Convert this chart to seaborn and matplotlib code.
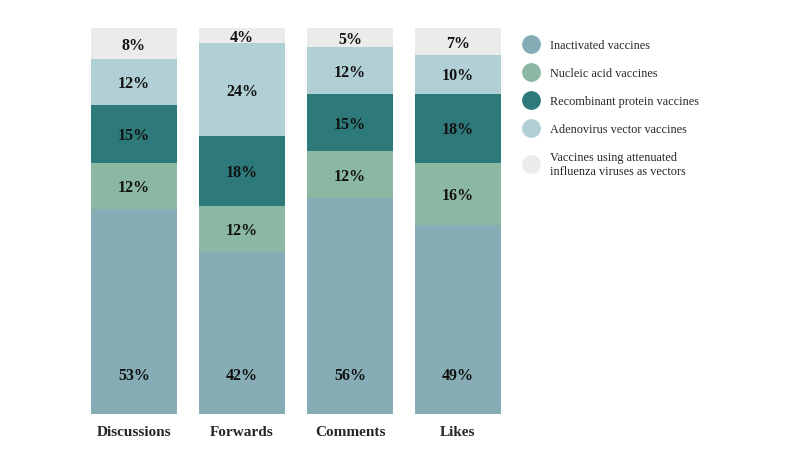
import numpy as np
import pandas as pd
import matplotlib
matplotlib.use("Agg")
import matplotlib.pyplot as plt
from matplotlib.lines import Line2D
import seaborn as sns

categories = ["Discussions", "Forwards", "Comments", "Likes"]
vaccine_types = [
    "Inactivated vaccines",
    "Nucleic acid vaccines",
    "Recombinant protein vaccines",
    "Adenovirus vector vaccines",
    "Vaccines using attenuated\ninfluenza viruses as vectors",
]
inactivated = [53, 42, 56, 49]
nucleic_acid = [12, 12, 12, 16]
recombinant = [15, 18, 15, 18]
adenovirus = [12, 24, 12, 10]
attenuated = [8, 4, 5, 7]
colors = ["#86adb6", "#8bb8a3", "#2e7a7a", "#b1d0d5", "#ebebeb"]

sns.set_style("white")
plt.rcParams["font.family"] = ["Liberation Serif", "DejaVu Serif"]

fig = plt.figure(figsize=(8, 4.6), dpi=100)
ax = fig.add_axes([0.1, 0.098, 0.54, 0.839])

series = [inactivated, nucleic_acid, recombinant, adenovirus, attenuated]
bottom = np.zeros(len(categories))
for i, (vals, col) in enumerate(zip(series, colors)):
    df = pd.DataFrame({"cat": categories, "val": vals})
    sns.barplot(data=df, x="cat", y="val", color=col, width=0.8,
                bottom=bottom, ax=ax, saturation=1, linewidth=0)
    for j, v in enumerate(vals):
        # bottom segment labels sit near the base of the bar
        y = bottom[j] + (10 if i == 0 else v / 2 - 0.3)
        ax.text(j, y, f"{v}%", ha="center", va="center",
                fontsize=11.5, fontweight="bold", color="#111111")
    bottom += np.array(vals)

ax.set_xlim(-0.5, 3.5)
ax.set_ylim(0, 100)
ax.set_xlabel("")
ax.set_ylabel("")
ax.set_yticks([])
ax.tick_params(axis="x", length=0, pad=8)
for lbl in ax.get_xticklabels():
    lbl.set_fontweight("bold")
    lbl.set_fontsize(11)
sns.despine(ax=ax, left=True, bottom=True)

handles = [Line2D([0], [0], marker="o", linestyle="", markersize=12.5,
                  markerfacecolor=c, markeredgecolor=c) for c in colors]
fig.legend(handles, vaccine_types, loc="upper left",
           bbox_to_anchor=(0.635, 0.936), frameon=False, fontsize=8.8,
           handletextpad=0.55, labelspacing=1.3)

fig.savefig("out.png", dpi=100)
